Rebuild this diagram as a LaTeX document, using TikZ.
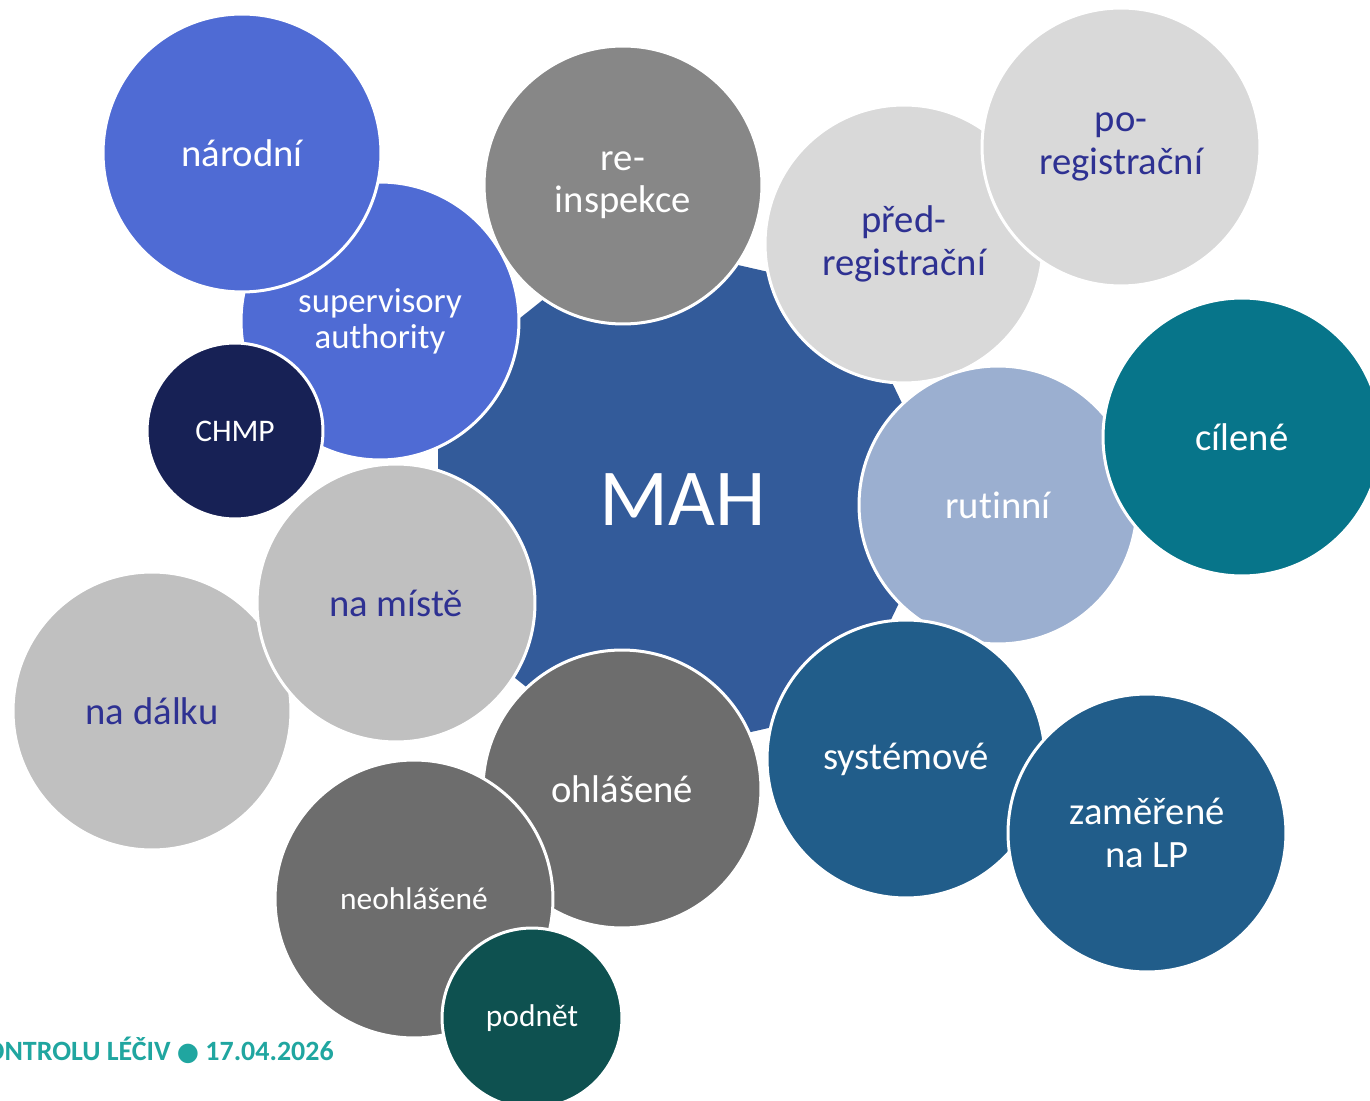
\documentclass[tikz,border=0pt]{standalone}
\usepackage{fontspec}
\setmainfont{Carlito}[Ligatures=NoCommon]
\newfontfamily\dejavu{DejaVu Sans}
\usepackage{tikz}
\definecolor{mahblue}{HTML}{335B9A}
\definecolor{natblue}{HTML}{4F6BD4}
\definecolor{chmpnavy}{HTML}{172155}
\definecolor{reinspgray}{HTML}{878787}
\definecolor{palegray}{HTML}{D9D9D9}
\definecolor{rutiblue}{HTML}{9BAFD0}
\definecolor{cileteal}{HTML}{07758A}
\definecolor{sysblue}{HTML}{215D8A}
\definecolor{midgray}{HTML}{C0C0C0}
\definecolor{darkgray}{HTML}{6D6D6D}
\definecolor{podnetteal}{HTML}{0E5150}
\definecolor{labelblue}{HTML}{2E3192}
\definecolor{footteal}{HTML}{20A6A0}

\begin{document}
\begin{tikzpicture}[x=0.02cm,y=-0.02cm,
  bubble/.style={circle,draw=white,line width=0.06cm,minimum size=5.56cm,inner sep=0pt,
    align=center,text=white,font=\fontsize{22}{24.2}\selectfont},
  smallbubble/.style={bubble,minimum size=3.56cm,font=\fontsize{17.9}{19.5}\selectfont},
  palebubble/.style={bubble,text=labelblue}]
  \useasboundingbox (0,0) rectangle (1370,1101); % 画像の大きさ
  \clip (0,0) rectangle (1370,1101); % はみ出した円を切る
  \coordinate (hub) at (680,500); % 七角形の中心
  \fill[mahblue,shift={(hub)}] (0:268.6) \foreach \k in {1,...,6}{ -- (\k*360/7:268.6)} -- cycle; % 中央の七角形
  \node[text=white,font=\fontsize{46}{46}\selectfont] (mah) at (683,500) {MAH}; % 中央の文字
  \node[bubble,fill=natblue,font=\fontsize{19.8}{20.4}\selectfont] (supervisory) at (380,321) {supervisory\\authority}; % 監督機関
  \node[bubble,fill=natblue] (narodni) at (242,153) {národní}; % 国内
  \node[smallbubble,fill=chmpnavy,minimum size=3.52cm] (chmp) at (235,431) {CHMP}; % CHMP
  \node[bubble,fill=reinspgray] (reinspekce) at (623,185) {re-\\inspekce}; % 再査察
  \node[palebubble,fill=palegray] (predreg) at (904,244) {před-\\registrační}; % 登録前
  \node[palebubble,fill=palegray] (poreg) at (1121,147) {po-\\registrační}; % 登録後
  \node[bubble,fill=rutiblue] (rutinni) at (998,505) {rutinní}; % 定期
  \node[bubble,fill=cileteal] (cilene) at (1242,437) {cílené}; % 目的別
  \node[bubble,fill=sysblue] (systemove) at (906,759) {systémové}; % システム
  \node[bubble,fill=sysblue] (zamerene) at (1147,833) {zaměřené\\na LP}; % 製品別
  \node[palebubble,fill=midgray] (nadalku) at (152,711) {na dálku}; % 遠隔
  \node[palebubble,fill=midgray] (namiste) at (396,603) {na místě}; % 現地
  \node[bubble,fill=darkgray] (ohlasene) at (622,789) {ohlášené}; % 予告あり
  \node[bubble,fill=darkgray,font=\fontsize{17.9}{19.5}\selectfont] (neohlasene) at (414,899) {neohlášené}; % 予告なし
  \node[smallbubble,fill=podnetteal,minimum size=3.6cm] (podnet) at (532,1018) {podnět}; % 通報
  \node[anchor=base east,inner sep=0pt,text=footteal,font=\bfseries\fontsize{15.9}{16}\selectfont]
    (footer) at (334,1060) {ONTROLU LÉČIV {\dejavu\fontsize{14.5}{14.5}\selectfont ●} 17.04.2026}; % 下端の文字
\end{tikzpicture}
\end{document}
